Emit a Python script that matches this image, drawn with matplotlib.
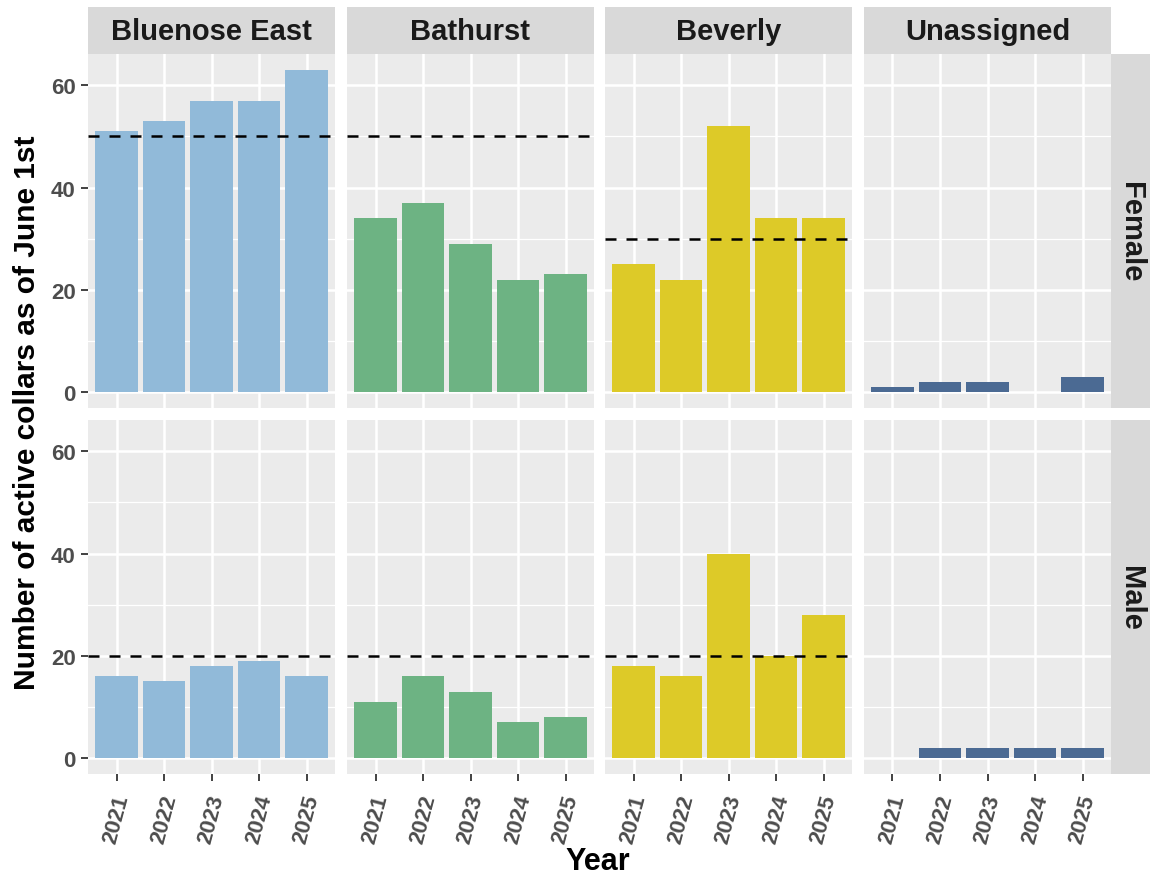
import matplotlib
matplotlib.use("Agg")
import matplotlib.pyplot as plt
import numpy as np

herds = ["Bluenose East", "Bathurst", "Beverly", "Unassigned"]
sexes = ["Female", "Male"]
years = ["2021", "2022", "2023", "2024", "2025"]

female_bluenose = [51, 53, 57, 57, 63]
female_bathurst = [34, 37, 29, 22, 23]
female_beverly = [25, 22, 52, 34, 34]
female_unassigned = [1, 2, 2, 0, 3]

male_bluenose = [16, 15, 18, 19, 16]
male_bathurst = [11, 16, 13, 7, 8]
male_beverly = [18, 16, 40, 20, 28]
male_unassigned = [0, 2, 2, 2, 2]

female_targets = [50, 50, 30, None]
male_targets = [20, 20, 20, None]

herd_colors = ["#91BAD9", "#6DB383", "#DDCA28", "#4B6A93"]

values = {
    "Female": [female_bluenose, female_bathurst, female_beverly, female_unassigned],
    "Male": [male_bluenose, male_bathurst, male_beverly, male_unassigned],
}
targets = {"Female": female_targets, "Male": male_targets}

plt.rcParams['font.family'] = ['Liberation Sans', 'DejaVu Sans']

W, H = 1150, 878
fig = plt.figure(figsize=(W / 100, H / 100), dpi=100)

col_x = [88, 347, 605, 864]
col_w = 247
row_y = [55, 421]
row_h = 354
strip_top = 8
strip_right_w = 40

ymax = 63
ylim = (-0.05 * ymax, ymax * 1.05)

for r, sex in enumerate(sexes):
    for c, herd in enumerate(herds):
        x0, y0 = col_x[c], row_y[r]
        ax = fig.add_axes([x0 / W, 1 - (y0 + row_h) / H, col_w / W, row_h / H])
        ax.set_facecolor("#EBEBEB")
        xs = np.arange(len(years))
        ax.set_xlim(-0.6, len(years) - 0.4)
        ax.set_ylim(*ylim)
        ax.set_yticks([0, 20, 40, 60])
        ax.set_yticks([10, 30, 50], minor=True)
        ax.set_xticks(xs)
        ax.grid(True, which="major", color="white", linewidth=1.8, zorder=0)
        ax.grid(True, which="minor", axis="y", color="white", linewidth=0.9, zorder=0)
        ax.set_axisbelow(True)
        for s in ax.spines.values():
            s.set_visible(False)
        ax.bar(xs, values[sex][c], width=0.9, color=herd_colors[c], zorder=2)
        t = targets[sex][c]
        if t is not None:
            ax.axhline(t, color="black", linestyle=(0, (4.4, 4.0)), linewidth=1.8, zorder=3)
        ax.tick_params(axis="both", which="major", length=5, width=1.3, color="#333333",
                       labelcolor="#4D4D4D", labelsize=16, pad=4)
        ax.tick_params(axis="both", which="minor", length=0)
        if c == 0:
            ax.set_yticklabels(["0", "20", "40", "60"], fontweight="bold")
        else:
            ax.tick_params(axis="y", which="major", left=False, labelleft=False)
        if r == 1:
            ax.set_xticklabels(years, rotation=75, fontweight="bold")
            ax.tick_params(axis="x", pad=8)
        else:
            ax.tick_params(axis="x", which="major", bottom=False, labelbottom=False)
        # top strip
        if r == 0:
            sax = fig.add_axes([x0 / W, 1 - row_y[0] / H, col_w / W, (row_y[0] - strip_top) / H])
            sax.set_facecolor("#D9D9D9")
            sax.set_xticks([]); sax.set_yticks([])
            for s in sax.spines.values():
                s.set_visible(False)
            sax.text(0.5, 0.5, herd, ha="center", va="center", fontsize=21,
                     fontweight="bold", color="#1A1A1A", transform=sax.transAxes)
        if c == len(herds) - 1:
            rax = fig.add_axes([(x0 + col_w) / W, 1 - (y0 + row_h) / H, strip_right_w / W, row_h / H])
            rax.set_facecolor("#D9D9D9")
            rax.set_xticks([]); rax.set_yticks([])
            for s in rax.spines.values():
                s.set_visible(False)
            rax.text(0.5, 0.5, sex, ha="center", va="center", fontsize=21, rotation=-90,
                     fontweight="bold", color="#1A1A1A", transform=rax.transAxes)

fig.text(598 / W, 1 - 862 / H, "Year", ha="center", va="center", fontsize=22,
         fontweight="bold", color="black")
fig.text(27 / W, 1 - 413 / H, "Number of active collars as of June 1st", ha="center",
         va="center", rotation=90, fontsize=21.5, fontweight="bold", color="black")

fig.savefig("out.png", dpi=100, facecolor="white")
